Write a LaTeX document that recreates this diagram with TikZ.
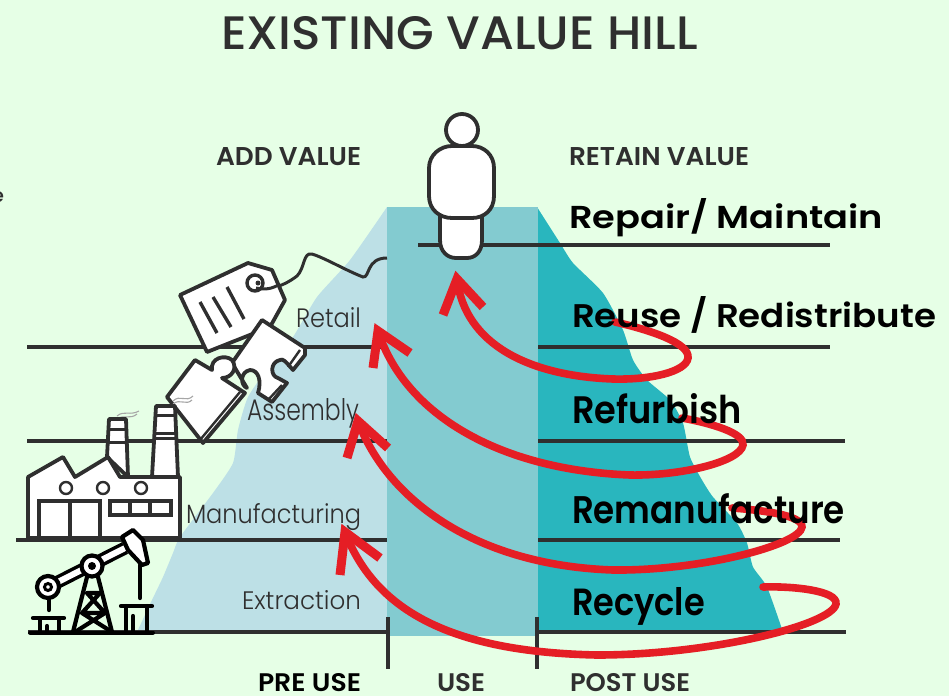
\documentclass[tikz,border=0pt]{standalone}
\usepackage{fontspec}
\usepackage{graphicx}
\setmainfont{Poppins}
\newfontfamily\medf{Poppins Medium}
\newfontfamily\lightf{Poppins Light}
\newfontfamily\semif{Poppins SemiBold}
\definecolor{bgc}{HTML}{E6FFE6}
\definecolor{hillL}{HTML}{BDE0E6}
\definecolor{hillM}{HTML}{83CBD0}
\definecolor{hillR}{HTML}{29B6BE}
\definecolor{ink}{HTML}{2F2F2F}
\definecolor{redc}{HTML}{E51E25}
\newcommand{\fit}[3]{\resizebox{#1pt}{#2pt}{#3}}
\tikzset{
  level/.style={draw=ink,line width=3.4pt},
  tick/.style={draw=ink,line width=3.6pt},
  outl/.style={draw=ink,line width=3.8pt,fill=white,line join=round},
  pump/.style={draw=black,line width=4.2pt,line cap=round,line join=round},
  curve/.style={draw=redc,line width=7.6pt,line cap=round},
  head/.style={draw=redc,line width=9pt,line join=miter,miter limit=20},
  lab/.style={anchor=base west,inner sep=0pt,outer sep=0pt,text=ink},
  big/.style={anchor=base west,inner sep=0pt,outer sep=0pt,text=black},
  smoke/.style={draw=gray!70,line width=1.1pt}
}
\begin{document}
\begin{tikzpicture}[x=1pt,y=-1pt]
\useasboundingbox (0,0) rectangle (949,696);
\fill[bgc] (0,0) rectangle (949,696);
% hills
\fill[hillL] plot[smooth,tension=0.35] coordinates {(137,632) (152,600) (163,577) (173,553) (180,537) (213,493) (233,463) (238,430) (248,397) (270,365) (293,337) (317,297) (350,260) (387,207)} -- (387,632) -- cycle;
\fill[hillR] plot[smooth,tension=0.35] coordinates {(537,207) (560,243) (573,263) (603,293) (623,330) (633,360) (647,380) (670,400) (683,423) (690,457) (702,480) (713,497) (737,523) (747,543) (753,567) (767,587) (783,632)} -- (538,632) -- cycle;
\fill[hillM] (387,207) rectangle (538,636);
% levels
\draw[level] (28,632) -- (387,632);
\draw[level] (538,632) -- (846,632);
\draw[level] (16,540) -- (387,540);
\draw[level] (538,540) -- (840,540);
\draw[level] (27,441) -- (387,441);
\draw[level] (538,441) -- (845,441);
\draw[level] (27,347) -- (387,347);
\draw[level] (538,347) -- (830,347);
\draw[level] (418,245) -- (830,245);
\draw[tick] (388,617) -- (388,669);
\draw[tick] (537,617) -- (537,669);
% title and headers
\node[lab] (title) at (221,49) {\fit{477}{33}{\medf EXISTING VALUE HILL}};
\node[lab] (add) at (216,165) {\fit{145}{18}{\semif ADD VALUE}};
\node[lab] (retain) at (569,165) {\fit{180}{18}{\semif RETAIN VALUE}};
\node[lab] (cut) at (-9,202) {\fit{13}{11}{\medf e}};
\node[big] (pre) at (258,691) {\fit{103}{18}{\semif PRE USE}};
\node[lab] (use) at (437,691) {\fit{48}{18}{\semif USE}};
\node[lab] (post) at (570,691) {\fit{120}{18}{\semif POST USE}};
% left labels
\node[lab] (ret) at (296,327) {\fit{65}{20}{\lightf Retail}};
\node[lab] (ass) at (247,420) {\fit{112}{22}{\lightf Assembly}};
\node[lab] (man) at (186,523) {\fit{175}{20}{\lightf Manufacturing}};
\node[lab] (ext) at (242,609) {\fit{119}{19}{\lightf Extraction}};
% tag string and tag
\draw[draw=ink,line width=3pt,fill=none] (256,287) .. controls (265,290) and (280,289) .. (297,276) .. controls (305,268) and (303,252) .. (312,254) .. controls (325,258) and (345,270) .. (363,277) .. controls (370,278) and (366,258) .. (387,258);
\draw[outl] (180,295) -- (248,263) -- (272,270) -- (285,300) -- (270,327) -- (207,352) -- cycle;
\draw[draw=ink,line width=3.4pt] (255,283) circle (8);
\fill[ink] (258,283) circle (2.5);
\draw[draw=ink,line width=3pt] (256,288) .. controls (265,290) and (272,289) .. (280,284);
\draw[draw=ink,line width=3.4pt] (200,302) -- (217,333) (213,297) -- (231,327) (227,287) -- (244,319);
% puzzle pieces
\draw[outl] (262,320) -- (305,348) -- (305,355) -- (293,370) .. controls (286,362) and (283,358) .. (280,360) .. controls (270,362) and (270,376) .. (278,378) -- (287,383) -- (272,402) -- (258,393) .. controls (262,380) and (258,370) .. (250,370) .. controls (240,372) and (240,385) .. (247,388) -- (232,363) -- cycle;
\draw[draw=ink,line width=2.4pt] (300,350) -- (288,367) (282,385) -- (268,400);
\draw[outl] (195,360) -- (212,370) .. controls (210,358) and (225,354) .. (232,360) .. controls (238,368) and (232,378) .. (222,378) -- (245,393) -- (203,443) -- (167,397) -- cycle;
\draw[draw=ink,line width=2.4pt] (240,392) -- (200,440);
% smoke
\draw[smoke] (117,416) .. controls (124,410) and (130,416) .. (139,411);
\draw[smoke] (117,419) .. controls (124,414) and (130,420) .. (137,414);
\draw[smoke] (173,401) .. controls (180,394) and (186,403) .. (193,396);
\draw[smoke] (173,404) .. controls (180,398) and (186,406) .. (192,400);
% factory
\draw[outl] (107,457) -- (109,419) -- (126,419) -- (128,477) -- cycle;
\draw[outl] (152,477) -- (156,406) -- (175,406) -- (178,477) -- cycle;
\draw[draw=ink,line width=3pt] (109,429) -- (126,429) (109,442) -- (127,442) (155,415) -- (176,415) (154,433) -- (176,433) (154,438) -- (177,438);
\draw[outl] (28,538) -- (28,477) -- (63,457) -- (75,477) -- (108,457) -- (120,477) -- (180,477) -- (180,538) -- cycle;
\draw[draw=ink,line width=2.4pt] (66,488) circle (6) (103,488) circle (6) (141,488) circle (6);
\draw[draw=ink,line width=3.8pt] (39,538) -- (39,501) -- (100,501) -- (100,538) (70,501) -- (70,538);
\draw[draw=ink,line width=3.8pt] (110,501) rectangle (171,515) (130,501) -- (130,515) (150,501) -- (150,515);
% pump jack
\draw[black,line width=13pt] (48,587) -- (125,548);
\draw[white,line width=6pt] (48,587) -- (125,548);
\draw[pump,fill=white] (122,537) -- (133,530) -- (143,540) -- (148,563) -- (142,565) -- (128,550) -- cycle;
\draw[pump] (73,632) -- (87,577) (112,632) -- (98,577);
\draw[pump] (87,593) -- (100,593) (82,613) -- (105,613) (87,593) -- (105,613) (100,593) -- (82,613) (82,613) -- (112,632) (105,613) -- (75,632);
\draw[pump,fill=white] (92,566) circle (10.5);
\fill[black] (92,566) circle (4);
\draw[pump,fill=white] (48,587) circle (11);
\draw[black,line width=3pt] (48,587) circle (3.5);
\draw[pump] (140,565) -- (140,598) (49,598) -- (49,610);
\draw[pump] (33,618) -- (64,618) (40,618) -- (40,632) (59,618) -- (59,632) (47,626) -- (47,632);
\draw[pump] (121,606) -- (152,606) (126,606) -- (126,632) (147,606) -- (147,632) (133,616) -- (133,632);
\draw[black,line width=4pt,line cap=round] (30,632.5) -- (153,632.5);
% person
\draw[outl] (440,210) -- (440,240) .. controls (440,252) and (448,258) .. (456,258) -- (467,258) .. controls (475,258) and (482,252) .. (482,240) -- (482,210) -- cycle;
\draw[outl] (429,168) .. controls (429,155) and (440,146) .. (452,146) -- (472,146) .. controls (484,146) and (494,155) .. (494,168) -- (494,196) .. controls (494,210) and (484,218) .. (472,218) -- (452,218) .. controls (440,218) and (429,210) .. (429,196) -- cycle;
\draw[outl] (462,130) circle (16);
% red arrows
\coordinate (reuseS) at (615,322);
\coordinate (reuseT) at (457,279);
\coordinate (refS) at (682,418);
\coordinate (refT) at (378,331);
\coordinate (remS) at (732,508);
\coordinate (remT) at (358,421);
\coordinate (recS) at (763,587);
\coordinate (recT) at (345,532);
\draw[curve] (reuseS) .. controls (650,330) and (690,343) .. (688,358) .. controls (686,372) and (650,380) .. (613,379) .. controls (530,376) and (465,345) .. (reuseT);
\draw[curve] (refS) .. controls (710,423) and (745,433) .. (743,445) .. controls (740,462) and (680,476) .. (630,475) .. controls (500,470) and (405,415) .. (refT);
\draw[curve] (remS) .. controls (760,510) and (803,515) .. (802,527) .. controls (800,545) and (700,571) .. (613,570) .. controls (470,565) and (385,495) .. (remT);
\draw[curve] (recS) .. controls (790,586) and (838,590) .. (836,604) .. controls (832,625) and (710,655) .. (597,655) .. controls (450,652) and (375,610) .. (recT);
\draw[head] (443,315) -- (reuseT) -- (483,307);
\draw[head] (373,368) -- (refT) -- (410,353);
\draw[head] (347,458) -- (remT) -- (388,448);
\draw[head] (340,575) -- (recT) -- (380,558);
% right labels
\node[big] (repair) at (569,228) {\fit{314}{30}{\semif Repair/ Maintain}};
\node[big] (reuse) at (572,327) {\fit{364}{31}{\semif Reuse / Redistribute}};
\node[big] (refurb) at (572,423) {\fit{170}{30}{\semif Refurbish}};
\node[big] (reman) at (572,523) {\fit{273}{30}{\semif Remanufacture}};
\node[big] (recyc) at (572,615) {\fit{133}{28}{\semif Recycle}};
\end{tikzpicture}
\end{document}
